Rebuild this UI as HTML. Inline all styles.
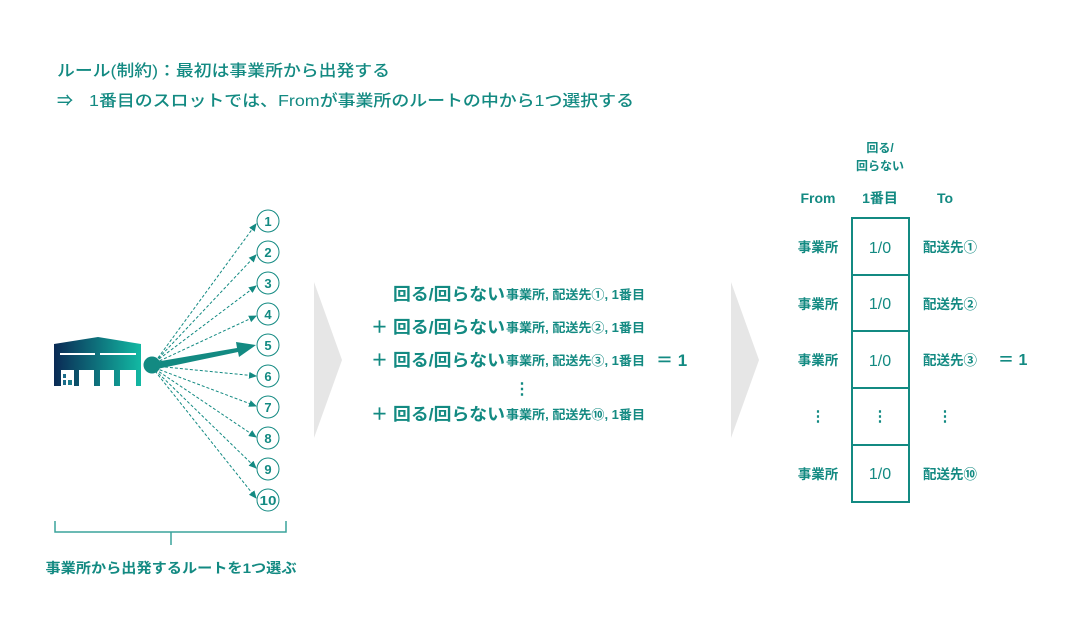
<!DOCTYPE html>
<html><head><meta charset="utf-8"><style>
html,body{margin:0;padding:0;background:#fff;}
svg{display:block;}
text{font-family:"Liberation Sans","Noto Sans CJK JP",sans-serif;fill:#138a82;}
</style></head><body>
<svg width="1075" height="640" viewBox="0 0 1075 640" xmlns="http://www.w3.org/2000/svg">
<defs>
<linearGradient id="g" x1="0" x2="1" y1="0" y2="0"><stop offset="0" stop-color="#0a2a55"/><stop offset="1" stop-color="#12b9a3"/></linearGradient>
<marker id="ah" markerWidth="8" markerHeight="8" refX="7" refY="4" orient="auto" markerUnits="userSpaceOnUse"><path d="M0,0.5 L8,4 L0,7.5z" fill="#138a82"/></marker>
</defs>
<text x="57" y="76" font-size="16" font-weight="500" textLength="333" lengthAdjust="spacingAndGlyphs">ルール(制約)：最初は事業所から出発する</text>
<text x="57" y="106" font-size="16" font-weight="500">⇒</text>
<text x="89" y="106" font-size="16" font-weight="500" textLength="545" lengthAdjust="spacingAndGlyphs">1番目のスロットでは、Fromが事業所のルートの中から1つ選択する</text>
<path d="M54,344 L98,337 L141,344 L141,386 L136,386 L136,370 L120,370 L120,386 L114,386 L114,370 L100,370 L100,386 L94,386 L94,370 L79,370 L79,386 L74,386 L74,370 L61,370 L61,386 L54,386z" fill="url(#g)"/>
<rect x="60" y="353" width="35" height="2" fill="#fff"/><rect x="100" y="353" width="36" height="2" fill="#fff"/>
<rect x="63" y="374" width="3" height="4" fill="#1b6c8a"/><rect x="63" y="380" width="3" height="5" fill="#1b6c8a"/><rect x="68" y="380" width="4" height="5" fill="#1b7c8a"/>
<g stroke="#138a82" stroke-width="1" stroke-dasharray="3,2" fill="none" marker-end="url(#ah)">
<line x1="155" y1="362" x2="256" y2="224"/>
<line x1="155" y1="362" x2="256" y2="255"/>
<line x1="155" y1="362" x2="256" y2="286"/>
<line x1="155" y1="363" x2="256" y2="316"/>
<line x1="155" y1="366" x2="256" y2="376"/>
<line x1="155" y1="368" x2="256" y2="406"/>
<line x1="155" y1="369" x2="256" y2="437"/>
<line x1="155" y1="370" x2="256" y2="468"/>
<line x1="155" y1="371" x2="256" y2="498"/>
</g>
<circle cx="152" cy="365" r="8.5" fill="#138a82"/>
<path d="M155,362 L237,348 L236,342 L256,345 L239,357 L238,352 L157,369z" fill="#138a82"/>
<g fill="#fff" stroke="#138a82" stroke-width="1">
<circle cx="268" cy="221" r="11"/><circle cx="268" cy="252" r="11"/><circle cx="268" cy="283" r="11"/><circle cx="268" cy="314" r="11"/><circle cx="268" cy="345" r="11"/><circle cx="268" cy="376" r="11"/><circle cx="268" cy="407" r="11"/><circle cx="268" cy="438" r="11"/><circle cx="268" cy="469" r="11"/><circle cx="268" cy="500" r="11"/>
</g>
<g font-size="13" font-weight="bold" text-anchor="middle">
<text x="268" y="226">1</text><text x="268" y="257">2</text><text x="268" y="288">3</text><text x="268" y="319">4</text><text x="268" y="350">5</text><text x="268" y="381">6</text><text x="268" y="412">7</text><text x="268" y="443">8</text><text x="268" y="474">9</text><text x="268" y="505" textLength="17" lengthAdjust="spacingAndGlyphs">10</text>
</g>
<path d="M55,521 V532 H286 V521 M171,532 V545" stroke="#3aa39b" stroke-width="1.5" fill="none"/>
<text x="171" y="573" font-size="14" font-weight="bold" text-anchor="middle" textLength="251" lengthAdjust="spacingAndGlyphs">事業所から出発するルートを1つ選ぶ</text>
<path d="M314,282 L342,360 L314,438z" fill="#e6e6e6"/>
<path d="M731,282 L759,360 L731,438z" fill="#e6e6e6"/>
<g font-weight="bold">
<text x="393" y="300" font-size="17" textLength="112" lengthAdjust="spacingAndGlyphs">回る/回らない</text>
<text x="506" y="299" font-size="12.5" textLength="139" lengthAdjust="spacingAndGlyphs">事業所, 配送先①, 1番目</text>
<text x="371" y="333" font-size="17">＋</text>
<text x="393" y="333" font-size="17" textLength="112" lengthAdjust="spacingAndGlyphs">回る/回らない</text>
<text x="506" y="332" font-size="12.5" textLength="139" lengthAdjust="spacingAndGlyphs">事業所, 配送先②, 1番目</text>
<text x="371" y="366" font-size="17">＋</text>
<text x="393" y="366" font-size="17" textLength="112" lengthAdjust="spacingAndGlyphs">回る/回らない</text>
<text x="506" y="365" font-size="12.5" textLength="139" lengthAdjust="spacingAndGlyphs">事業所, 配送先③, 1番目</text>
<text x="371" y="420" font-size="17">＋</text>
<text x="393" y="420" font-size="17" textLength="112" lengthAdjust="spacingAndGlyphs">回る/回らない</text>
<text x="506" y="419" font-size="12.5" textLength="139" lengthAdjust="spacingAndGlyphs">事業所, 配送先⑩, 1番目</text>
<text x="656" y="366" font-size="17">＝ 1</text>
<text x="522" y="394" font-size="16" text-anchor="middle">⋮</text>
</g>
<g font-size="12" font-weight="bold" text-anchor="middle">
<text x="880" y="152">回る/</text>
<text x="880" y="170">回らない</text>
</g>
<g font-size="14" font-weight="bold" text-anchor="middle">
<text x="818" y="203">From</text><text x="880" y="203">1番目</text><text x="945" y="203">To</text>
</g>
<g fill="none" stroke="#138a82" stroke-width="2">
<rect x="852" y="218" width="57" height="284"/>
<line x1="852" y1="275" x2="909" y2="275"/><line x1="852" y1="331" x2="909" y2="331"/><line x1="852" y1="388" x2="909" y2="388"/><line x1="852" y1="445" x2="909" y2="445"/>
</g>
<g font-size="16" font-weight="500" text-anchor="middle">
<text x="880" y="253">1/0</text><text x="880" y="309">1/0</text><text x="880" y="366">1/0</text><text x="880" y="479">1/0</text>
</g>
<g font-size="15" font-weight="bold" text-anchor="middle">
<text x="880" y="421">⋮</text><text x="818" y="421">⋮</text><text x="945" y="421">⋮</text>
</g>
<g font-size="13.5" font-weight="bold" text-anchor="middle">
<text x="818" y="252">事業所</text><text x="818" y="309">事業所</text><text x="818" y="365">事業所</text><text x="818" y="479">事業所</text>
<text x="950" y="252">配送先①</text><text x="950" y="309">配送先②</text><text x="950" y="365">配送先③</text><text x="950" y="479">配送先⑩</text>
</g>
<text x="998" y="365" font-size="16" font-weight="bold">＝ 1</text>
</svg>
</body></html>
